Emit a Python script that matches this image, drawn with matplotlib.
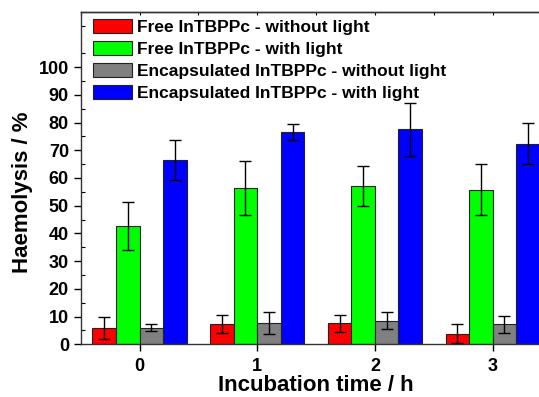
import matplotlib
matplotlib.use("Agg")
import matplotlib.pyplot as plt
import numpy as np
from matplotlib.ticker import MultipleLocator, FixedLocator

plt.rcParams['font.family'] = ['Liberation Sans', 'DejaVu Sans']
plt.rcParams['font.weight'] = 'bold'

times = ["0", "1", "2", "3"]
series_names = ["Free InTBPPc - without light", "Free InTBPPc - with light",
                "Encapsulated InTBPPc - without light", "Encapsulated InTBPPc - with light"]
free_dark = [6.0, 7.3, 7.6, 3.8]
free_dark_err = [4.0, 3.2, 3.1, 3.4]
free_light = [42.8, 56.4, 57.1, 55.8]
free_light_err = [8.7, 9.6, 7.3, 9.3]
enc_dark = [6.0, 7.8, 8.5, 7.2]
enc_dark_err = [1.3, 4.0, 3.1, 3.0]
enc_light = [66.4, 76.6, 77.5, 72.4]
enc_light_err = [7.2, 2.8, 9.5, 7.4]
colors = ["#FF0000", "#00FF00", "#808080", "#0000FF"]

W, H = 539, 397
fig = plt.figure(figsize=(W/100, H/100), dpi=100)
ax = fig.add_axes([80.7/W, 52.7/H, (551.5-80.7)/W, (344.3-11.7)/H])

x = np.arange(len(times))
width = 0.2
offsets = [-0.3, -0.1, 0.1, 0.3]
vals = [free_dark, free_light, enc_dark, enc_light]
errs = [free_dark_err, free_light_err, enc_dark_err, enc_light_err]
for i in range(4):
    ax.bar(x + offsets[i], vals[i], width, color=colors[i], edgecolor='#222222',
           linewidth=0.8, label=series_names[i], zorder=2)
    ax.errorbar(x + offsets[i], vals[i], yerr=errs[i], fmt='none', ecolor='black',
                elinewidth=1, capsize=4, capthick=1, zorder=3)

ax.set_xlim(-0.5, 3.5)
ax.set_ylim(0, 120)
ax.set_xticks(x)
ax.set_xticklabels(times)
ax.yaxis.set_major_locator(FixedLocator(np.arange(0, 101, 10)))
ax.yaxis.set_minor_locator(FixedLocator(np.arange(5, 120, 10)))
ax.tick_params(axis='y', which='major', direction='out', length=5, width=1, labelsize=13)
ax.tick_params(axis='y', which='minor', direction='in', length=3, width=0.8)
ax.tick_params(axis='x', which='major', direction='out', length=5, width=1, labelsize=13, pad=5)
ax.xaxis.set_minor_locator(MultipleLocator(0.5))
ax.tick_params(axis='x', which='minor', length=0)

ax2 = ax.secondary_xaxis('top')
ax2.set_xticks(np.arange(-0.5, 3.6, 0.5))
ax2.tick_params(axis='x', direction='in', length=2.5, width=0.8, labeltop=False)

for s in ax.spines.values():
    s.set_linewidth(1)
    s.set_color('#333333')
ax2.spines['top'].set_linewidth(1)
ax2.spines['top'].set_color('#333333')

ax.set_xlabel("Incubation time / h", fontsize=16, fontweight='bold')
ax.xaxis.set_label_coords(0.5, -0.093)
ax.set_ylabel("Haemolysis / %", fontsize=16, fontweight='bold')
ax.yaxis.set_label_coords(-0.101, 0.458)

leg = ax.legend(loc='upper left', bbox_to_anchor=(0.0255, 0.977), frameon=False,
                fontsize=12.5, handlelength=2.25, handleheight=0.85, labelspacing=0.34,
                handletextpad=0.3, borderaxespad=0, borderpad=0)

fig.savefig("out.png", dpi=100)
